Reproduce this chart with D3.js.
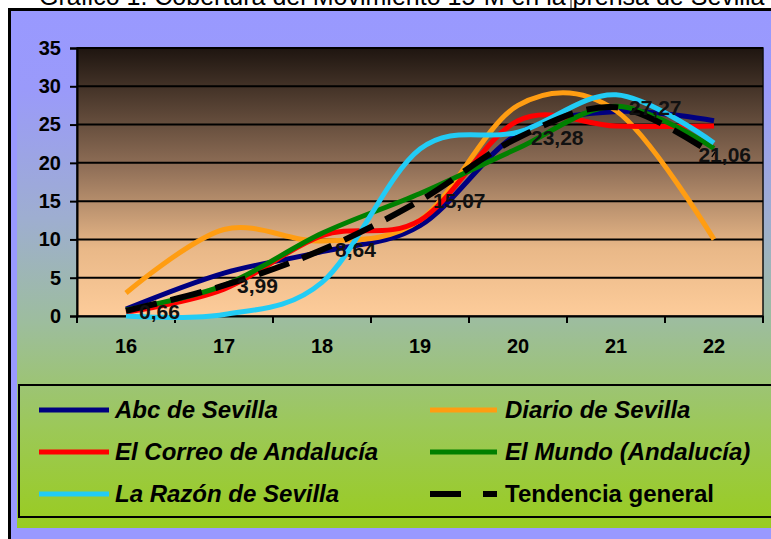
<!DOCTYPE html>
<html>
<head>
<meta charset="utf-8">
<script src="https://cdn.jsdelivr.net/npm/d3@7"></script>
<style>
  body { margin: 0; background: #fff; }
  svg { display: block; font-family: Arial, "Liberation Sans", sans-serif; }
</style>
</head>
<body>
<svg id="chart" width="771" height="539"></svg>
<script>
// tabla de datos
const days = ['16', '17', '18', '19', '20', '21', '22'];
const abc = [0.9, 5.6, 8.4, 11.8, 23.8, 26.7, 25.5];
const diario = [3.0, 11.3, 9.8, 12.5, 27.5, 26.8, 10.0];
const correo = [0.5, 3.5, 10.5, 12.5, 25.5, 24.8, 24.8];
const mundo = [0.8, 4.0, 10.8, 16.0, 21.9, 27.4, 21.9];
const razon = [0.0, 0.2, 4.4, 21.8, 24.0, 28.9, 22.6];
const tendencia = [0.66, 3.99, 8.64, 15.07, 23.28, 27.27, 21.06];
const yTicks = [0, 5, 10, 15, 20, 25, 30, 35];
const titleText = 'Gráfico 1. Cobertura del Movimiento 15-M en la prensa de Sevilla';

const series = [
    {name: 'Abc de Sevilla', values: abc, color: '#000080', italic: true},
    {name: 'Diario de Sevilla', values: diario, color: '#ff9d12', italic: true},
    {name: 'El Correo de Andalucía', values: correo, color: '#ff0000', italic: true},
    {name: 'El Mundo (Andalucía)', values: mundo, color: '#008000', italic: true},
    {name: 'La Razón de Sevilla', values: razon, color: '#22ccf5', italic: true},
    {name: 'Tendencia general', values: tendencia, color: '#000000', italic: false, dashed: true}
];

const svg = d3.select('#chart');
const defs = svg.append('defs');

const es = d3.formatLocale({decimal: ',', thousands: '.', grouping: [3], currency: ['', '€']});
const fmt = es.format('.2f');

function gradient(id, stops) {
    const g = defs.append('linearGradient').attr('id', id)
        .attr('x1', 0).attr('y1', 0).attr('x2', 0).attr('y2', 1);
    stops.forEach(([o, c]) => g.append('stop').attr('offset', o).attr('stop-color', c));
}
gradient('bg', [[0, '#9999ff'], [0.15, '#9a9afa'], [0.4, '#9eaed0'], [0.6, '#9dbd9e'], [0.8, '#9cc85a'], [1, '#99cc1f']]);
gradient('plot', [[0, '#1e1510'], [0.45, '#917058'], [0.75, '#e9b888'], [1, '#fdcc9a']]);

// titulo (cortado arriba, como en la imagen)
svg.append('text').attr('x', 39).attr('y', 5)
    .attr('font-size', 25).attr('fill', '#000').text(titleText);
svg.append('line').attr('x1', 571).attr('x2', 571).attr('y1', 0).attr('y2', 9)
    .attr('stroke', '#000').attr('stroke-width', 1);

// area del grafico
svg.append('rect').attr('x', 9.5).attr('y', 9.5).attr('width', 800).attr('height', 560)
    .attr('fill', '#9999ff').attr('stroke', '#000').attr('stroke-width', 3);
svg.append('rect').attr('x', 17).attr('y', 12).attr('width', 760).attr('height', 516)
    .attr('fill', 'url(#bg)');

const plot = {left: 77, right: 763, top: 48, bottom: 316};
const x = d3.scaleBand().domain(days).range([plot.left, plot.right]);
const y = d3.scaleLinear().domain([0, 35]).range([plot.bottom, plot.top]);
const px = d => x(d) + x.bandwidth() / 2;

svg.append('rect').attr('x', plot.left).attr('y', plot.top)
    .attr('width', plot.right - plot.left).attr('height', plot.bottom - plot.top)
    .attr('fill', 'url(#plot)').attr('stroke', '#111').attr('stroke-width', 1.5);

// rejilla
svg.append('g').selectAll('line').data(yTicks.slice(1)).join('line')
    .attr('x1', plot.left).attr('x2', plot.right)
    .attr('y1', d => y(d)).attr('y2', d => y(d))
    .attr('stroke', '#000').attr('stroke-width', 2);

// eje Y
const yAxis = svg.append('g').attr('transform', `translate(${plot.left},0)`)
    .call(d3.axisLeft(y).tickValues(yTicks).tickSize(7).tickPadding(9));
yAxis.select('.domain').attr('stroke', '#000').attr('stroke-width', 2);
yAxis.selectAll('.tick line').attr('stroke', '#000').attr('stroke-width', 2);
yAxis.selectAll('.tick text').attr('font-size', 20).attr('font-weight', 'bold')
    .attr('fill', '#000').attr('font-family', 'Arial, "Liberation Sans", sans-serif');

// eje X
const xAxis = svg.append('g').attr('transform', `translate(0,${plot.bottom})`)
    .call(d3.axisBottom(x).tickSize(0).tickPadding(23));
xAxis.select('.domain').attr('stroke', '#000').attr('stroke-width', 2);
xAxis.selectAll('.tick text').attr('font-size', 20).attr('font-weight', 'bold')
    .attr('fill', '#000').attr('font-family', 'Arial, "Liberation Sans", sans-serif');
const bounds = days.map(d => x(d)).concat([plot.right]);
svg.append('g').selectAll('line').data(bounds).join('line')
    .attr('x1', d => d).attr('x2', d => d)
    .attr('y1', plot.bottom).attr('y2', plot.bottom + 7)
    .attr('stroke', '#000').attr('stroke-width', 2);

// series
const line = d3.line()
    .x((v, i) => px(days[i]))
    .y(v => y(v))
    .curve(d3.curveCatmullRom.alpha(0));

svg.append('g').selectAll('path').data(series).join('path')
    .attr('d', s => line(s.values))
    .attr('fill', 'none')
    .attr('stroke', s => s.color)
    .attr('stroke-width', s => s.dashed ? 6 : 5)
    .attr('stroke-dasharray', s => s.dashed ? '32,14' : null)
    .attr('stroke-linejoin', 'round');

// etiquetas de la tendencia
const labels = svg.append('g').selectAll('text').data(tendencia).join('text')
    .attr('x', (v, i) => px(days[i]) + 13)
    .attr('y', v => y(v))
    .attr('dy', '0.36em')
    .attr('font-size', 21).attr('font-weight', 'bold').attr('fill', '#111')
    .text(v => fmt(v));
labels.each(function () {
    const w = this.getComputedTextLength();
    const lx = +this.getAttribute('x');
    if (lx + w > plot.right - 12) this.setAttribute('x', plot.right - 12 - w);
});

// leyenda
svg.append('rect').attr('x', 19).attr('y', 385).attr('width', 780).attr('height', 132)
    .attr('fill', 'none').attr('stroke', '#000').attr('stroke-width', 2);
const legendCols = [39, 430];
const legendRows = [410, 452, 494];
const items = svg.append('g').selectAll('g').data(series).join('g')
    .attr('transform', (s, i) => `translate(${legendCols[i % 2]},${legendRows[Math.floor(i / 2)]})`);
items.append('line')
    .attr('x1', 0).attr('x2', (s, i) => i % 2 ? 67 : 70)
    .attr('stroke', s => s.color)
    .attr('stroke-width', s => s.dashed ? 6 : 5)
    .attr('stroke-dasharray', s => s.dashed ? '31,22' : null);
items.append('text')
    .attr('x', (s, i) => i % 2 ? 75 : 76)
    .attr('y', 8)
    .attr('font-size', 24).attr('font-weight', 'bold')
    .attr('font-style', s => s.italic ? 'italic' : 'normal')
    .attr('fill', '#000')
    .text(s => s.name);
</script>
</body>
</html>
